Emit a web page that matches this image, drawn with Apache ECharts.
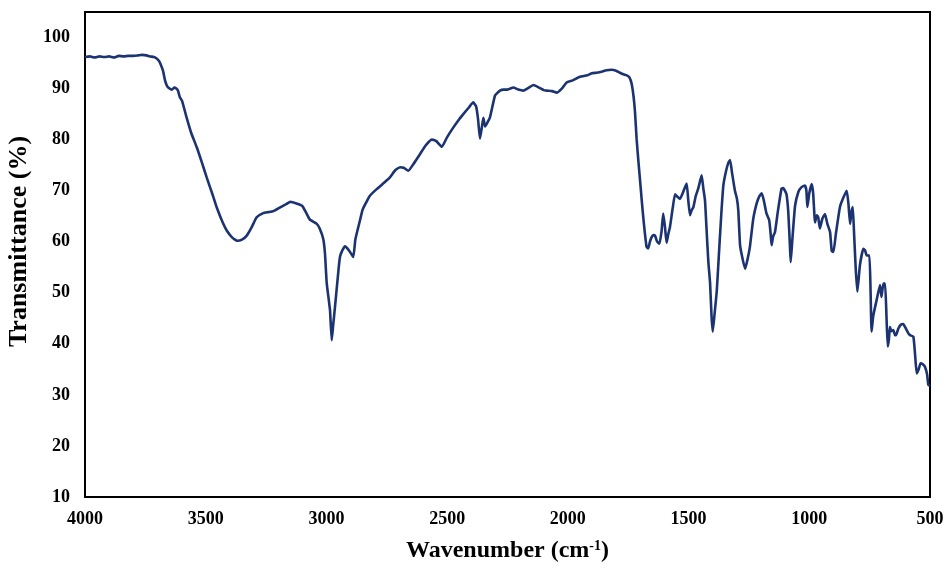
<!DOCTYPE html>
<html>
<head>
<meta charset="utf-8">
<script src="https://cdn.jsdelivr.net/npm/echarts@6/dist/echarts.min.js"></script>
<style>
  html, body { margin: 0; padding: 0; background: #fff; }
  #chart { width: 948px; height: 569px; }
</style>
</head>
<body>
<div id="chart"></div>
<script>
// FTIR spectrum: wavenumber (cm-1) and transmittance (%)
const wavenumbers = [
  4000, 3980, 3960, 3940, 3920, 3900, 3880, 3860, 3840, 3820, 3800, 3780, 3764, 3745, 3731, 3715,
  3706, 3695, 3689, 3677, 3668, 3660, 3650, 3640, 3630, 3622, 3615, 3607, 3598, 3579, 3560, 3537,
  3515, 3496, 3470, 3455, 3430, 3413, 3390, 3370, 3350, 3330, 3310, 3289, 3262, 3240, 3220, 3190,
  3165, 3150, 3124, 3100, 3082, 3068, 3040, 3027, 3013, 3006, 2999, 2990, 2985, 2978, 2972, 2965,
  2958, 2950, 2944, 2935, 2923, 2905, 2889, 2880, 2861, 2850, 2834, 2820, 2792, 2760, 2737, 2715,
  2695, 2680, 2661, 2640, 2612, 2590, 2564, 2545, 2522, 2500, 2474, 2450, 2433, 2410, 2392, 2380,
  2372, 2364, 2356, 2350, 2343, 2335, 2323, 2310, 2302, 2295, 2281, 2267, 2250, 2226, 2205, 2185,
  2165, 2143, 2120, 2100, 2088, 2065, 2046, 2025, 2005, 1980, 1950, 1920, 1900, 1881, 1860, 1840,
  1819, 1800, 1784, 1770, 1756, 1745, 1736, 1728, 1722, 1715, 1708, 1700, 1694, 1685, 1674, 1667,
  1660, 1653, 1646, 1639, 1630, 1621, 1612, 1605, 1598, 1591, 1584, 1577, 1566, 1556, 1546, 1536,
  1522, 1508, 1501, 1494, 1487, 1480, 1470, 1460, 1446, 1439, 1432, 1425, 1418, 1411, 1405, 1400,
  1392, 1383, 1375, 1365, 1356, 1345, 1335, 1328, 1320, 1308, 1300, 1294, 1287, 1280, 1266, 1256,
  1246, 1232, 1218, 1208, 1197, 1188, 1177, 1166, 1160, 1156, 1150, 1142, 1130, 1115, 1108, 1101,
  1094, 1087, 1080, 1077, 1070, 1059, 1045, 1032, 1018, 1012, 1008, 1000, 990, 984, 976, 969,
  963, 956, 946, 935, 925, 914, 907, 900, 890, 873, 860, 845, 838, 831, 825, 820,
  815, 808, 801, 790, 776, 769, 762, 751, 746, 742, 735, 721, 707, 701, 693, 686,
  680, 675, 670, 666, 660, 652, 645, 641, 631, 620, 611, 600, 590, 583, 569, 562,
  555, 547, 539, 530, 521, 512, 507, 500
];
const transmittance = [
  96.2, 96.3, 96.1, 96.3, 96.2, 96.3, 96.1, 96.4, 96.3, 96.4, 96.4, 96.5, 96.6, 96.5, 96.3, 96.2,
  96.0, 95.5, 95.0, 93.5, 91.5, 90.5, 90.0, 89.8, 90.2, 90.0, 89.6, 88.3, 87.6, 84.3, 81.3, 78.5,
  75.4, 72.6, 69.0, 66.8, 63.8, 62.2, 60.8, 60.2, 60.4, 61.2, 62.8, 64.8, 65.6, 65.8, 66.0, 66.8,
  67.4, 67.8, 67.5, 67.0, 65.5, 64.3, 63.5, 62.5, 60.5, 57.7, 52.0, 48.5, 46.5, 40.7, 43.7, 47.0,
  50.5, 54.5, 57.0, 58.2, 59.1, 58.2, 57.0, 60.5, 64.2, 66.3, 67.8, 69.0, 70.3, 71.6, 72.6, 74.0,
  74.6, 74.5, 73.9, 75.2, 77.2, 78.8, 80.0, 79.7, 78.6, 80.5, 82.4, 84.0, 85.0, 86.3, 87.3, 86.5,
  84.0, 80.2, 82.5, 84.3, 82.6, 83.2, 84.3, 87.0, 88.6, 89.0, 89.6, 89.8, 89.8, 90.2, 89.8, 89.6,
  90.1, 90.7, 90.2, 89.7, 89.6, 89.5, 89.2, 90.0, 91.2, 91.6, 92.3, 92.6, 93.0, 93.1, 93.3, 93.6,
  93.7, 93.5, 93.1, 92.8, 92.6, 92.2, 91.0, 88.5, 85.5, 80.0, 75.9, 71.5, 68.1, 63.5, 59.0, 58.7,
  60.0, 60.9, 61.3, 61.2, 60.0, 59.6, 62.0, 65.5, 63.0, 59.8, 61.5, 62.9, 66.5, 69.3, 68.8, 68.4,
  69.8, 71.4, 68.0, 65.2, 66.2, 66.8, 69.0, 70.4, 73.0, 70.5, 68.1, 62.0, 56.0, 52.0, 45.5, 42.4,
  46.0, 50.5, 57.0, 65.0, 71.0, 73.8, 75.5, 76.0, 73.5, 70.0, 68.5, 66.1, 59.5, 57.5, 54.7, 56.5,
  59.0, 64.5, 67.5, 68.8, 69.5, 68.0, 65.5, 64.2, 61.5, 59.3, 61.0, 61.9, 66.0, 70.4, 70.5, 70.0,
  69.2, 65.8, 59.0, 56.0, 60.5, 67.0, 69.8, 70.7, 71.0, 70.0, 66.8, 69.5, 71.3, 69.5, 63.8, 65.2,
  64.8, 62.6, 64.5, 65.4, 63.5, 61.9, 58.2, 58.0, 61.5, 66.8, 68.5, 70.0, 67.5, 63.5, 66.0, 66.8,
  62.2, 55.0, 50.2, 55.5, 58.6, 58.3, 57.3, 57.3, 50.0, 42.4, 45.5, 48.6, 51.5, 49.2, 51.8, 51.8,
  45.0, 39.5, 41.0, 43.3, 42.5, 42.7, 41.7, 41.7, 43.0, 43.8, 43.9, 43.0, 42.1, 41.7, 41.4, 38.0,
  34.2, 35.0, 36.2, 36.0, 35.5, 34.0, 32.0, 31.8
];

// Axis ranges and ticks
const xRange = { min: 500, max: 4000, step: 500 };
const yRange = { min: 10, max: 105, step: 10 };

const serif = '"Liberation Serif", "Times New Roman", serif';
const spectrum = wavenumbers.map((w, i) => [w, transmittance[i]]);

const chart = echarts.init(document.getElementById('chart'), null, { renderer: 'canvas' });
chart.setOption({
  backgroundColor: '#ffffff',
  animation: false,
  grid: {
    left: 85, right: 18, top: 12, bottom: 72,
    containLabel: false,
    outerBoundsMode: 'none',
    show: true, borderColor: '#000', borderWidth: 2, backgroundColor: 'transparent'
  },
  xAxis: {
    type: 'value',
    inverse: true,
    min: xRange.min, max: xRange.max, interval: xRange.step,
    name: 'Wavenumber (cm{sup|-1})',
    nameLocation: 'middle',
    nameGap: 42,
    nameTextStyle: {
      fontFamily: serif, fontWeight: 'bold', fontSize: 24, color: '#000',
      rich: {
        sup: { fontFamily: serif, fontWeight: 'bold', fontSize: 14, color: '#000', verticalAlign: 'top', padding: [0, 0, 10, 0] }
      }
    },
    axisLine: { show: true, lineStyle: { color: '#000', width: 2 } },
    axisTick: { show: false },
    splitLine: { show: false },
    axisLabel: {
      fontFamily: serif, fontWeight: 'bold', fontSize: 18, color: '#000', margin: 13,
      formatter: (v) => String(v)
    }
  },
  yAxis: {
    type: 'value',
    min: yRange.min, max: yRange.max, interval: yRange.step,
    name: 'Transmittance (%)',
    nameLocation: 'middle',
    nameGap: 51,
    nameTextStyle: {
      fontFamily: serif, fontWeight: 'bold', fontSize: 26, color: '#000', padding: [0, 0, 0, 26]
    },
    axisLine: { show: true, lineStyle: { color: '#000', width: 2 } },
    axisTick: { show: false },
    splitLine: { show: false },
    axisLabel: {
      fontFamily: serif, fontWeight: 'bold', fontSize: 18, color: '#000', margin: 15,
      showMaxLabel: false,
      formatter: (v) => String(v)
    }
  },
  series: [{
    type: 'line',
    data: spectrum,
    showSymbol: false,
    smooth: 0.15,
    lineStyle: { color: '#1c3372', width: 2.6 },
    z: 3
  }]
});
</script>
</body>
</html>
